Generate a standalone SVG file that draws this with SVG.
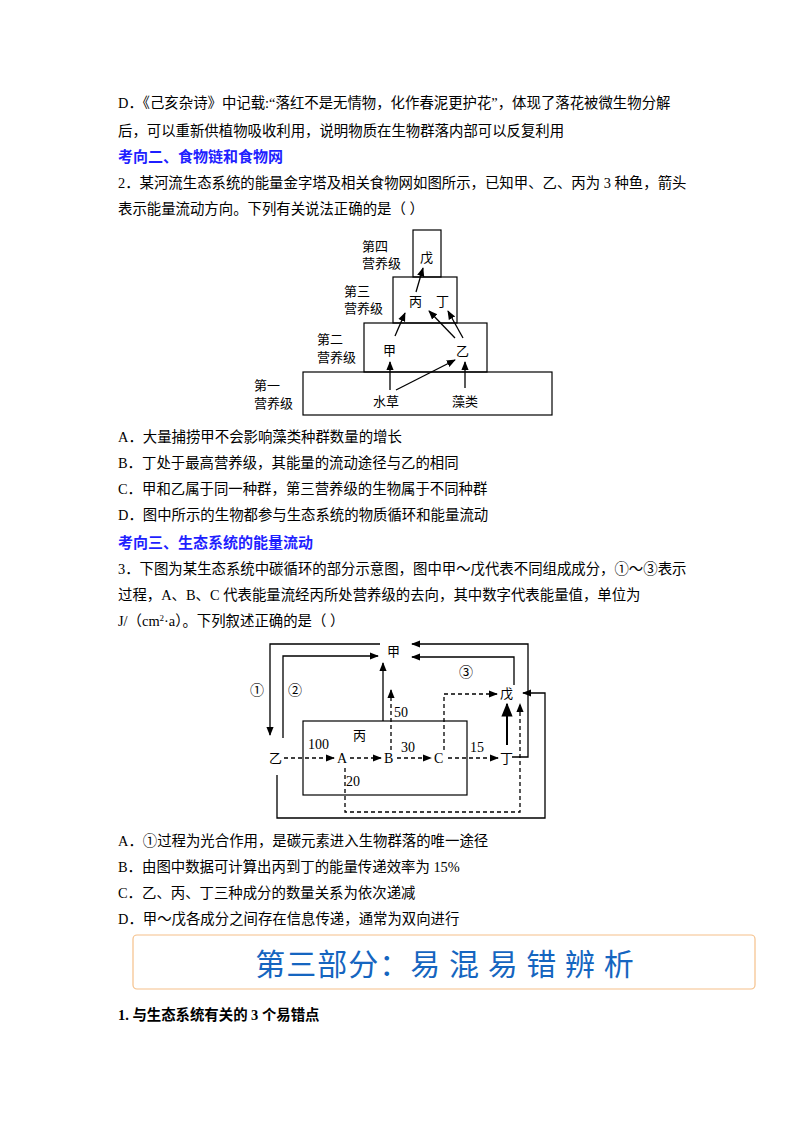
<svg xmlns="http://www.w3.org/2000/svg" width="800" height="1132" viewBox="0 0 800 1132">
<defs>
<marker id="ar" viewBox="0 0 10 10" refX="9" refY="5" markerWidth="7" markerHeight="7" orient="auto"><path d="M0,1 L10,5 L0,9 z" fill="#000"/></marker>
<style>
text{font-family:"Liberation Serif","Noto Sans CJK SC",serif;font-size:14.4px;fill:#000}
.h{font-weight:bold;fill:#1f1fff;font-size:15px}
.d{font-family:"Noto Sans CJK SC",sans-serif;font-size:13px}
.n{font-family:"Liberation Serif","Noto Sans CJK SC",serif;font-size:14px}
.b{fill:none;stroke:#000;stroke-width:1.2}
.l{fill:none;stroke:#000;stroke-width:1.3}
.ds{stroke-dasharray:4,3}
</style>
</defs>
<rect width="800" height="1132" fill="#fff"/>
<text x="118" y="108">D．《己亥杂诗》中记载:“落红不是无情物，化作春泥更护花”，体现了落花被微生物分解</text>
<text x="118" y="136">后，可以重新供植物吸收利用，说明物质在生物群落内部可以反复利用</text>
<text x="118" y="162" class="h">考向二、食物链和食物网</text>
<text x="118" y="188">2．某河流生态系统的能量金字塔及相关食物网如图所示，已知甲、乙、丙为 3 种鱼，箭头</text>
<text x="118" y="214">表示能量流动方向。下列有关说法正确的是（     ）</text>
<g id="pyramid">
<rect class="b" x="413" y="230" width="28" height="47"/>
<rect class="b" x="393" y="277" width="64" height="46"/>
<rect class="b" x="364" y="323" width="123" height="49"/>
<rect class="b" x="303" y="372" width="249" height="43"/>
<text class="d" x="362" y="251">第四</text><text class="d" x="362" y="268">营养级</text>
<text class="d" x="344" y="296">第三</text><text class="d" x="344" y="313">营养级</text>
<text class="d" x="317" y="344">第二</text><text class="d" x="317" y="362">营养级</text>
<text class="d" x="254" y="390">第一</text><text class="d" x="254" y="408">营养级</text>
<text class="d" x="420" y="262">戊</text>
<text class="d" x="409" y="306">丙</text><text class="d" x="436" y="306">丁</text>
<text class="d" x="383" y="355">甲</text><text class="d" x="456" y="356">乙</text>
<text class="d" x="373" y="406">水草</text><text class="d" x="452" y="406">藻类</text>
<g class="l">
<line x1="416" y1="292" x2="423" y2="268" marker-end="url(#ar)"/>
<line x1="395" y1="336" x2="405" y2="313" marker-end="url(#ar)"/>
<line x1="455" y1="338" x2="429" y2="311" marker-end="url(#ar)"/>
<line x1="463" y1="338" x2="448" y2="311" marker-end="url(#ar)"/>
<line x1="390" y1="390" x2="390" y2="362" marker-end="url(#ar)"/>
<line x1="396" y1="390" x2="455" y2="360" marker-end="url(#ar)"/>
<line x1="465" y1="388" x2="465" y2="362" marker-end="url(#ar)"/>
</g>
</g>
<text x="118" y="442">A．大量捕捞甲不会影响藻类种群数量的增长</text>
<text x="118" y="468">B．丁处于最高营养级，其能量的流动途径与乙的相同</text>
<text x="118" y="494">C．甲和乙属于同一种群，第三营养级的生物属于不同种群</text>
<text x="118" y="520">D．图中所示的生物都参与生态系统的物质循环和能量流动</text>
<text x="118" y="548" class="h">考向三、生态系统的能量流动</text>
<text x="118" y="574">3．下图为某生态系统中碳循环的部分示意图，图中甲～戊代表不同组成成分，①～③表示</text>
<text x="118" y="600">过程，A、B、C 代表能量流经丙所处营养级的去向，其中数字代表能量值，单位为</text>
<text x="118" y="626">J/（cm<tspan font-size="9" dy="-5">2</tspan><tspan dy="5">·a）。下列叙述正确的是（       ）</tspan></text>
<g id="carbon">
<rect class="b" x="303" y="721" width="164" height="74"/>
<text class="d" x="387" y="656">甲</text>
<text class="d" x="353" y="740">丙</text>
<text class="d" x="269" y="763">乙</text>
<text class="d" x="500" y="698">戊</text>
<text class="d" x="500" y="763">丁</text>
<text class="n" x="337" y="763">A</text>
<text class="n" x="384" y="763">B</text>
<text class="n" x="434" y="763">C</text>
<text class="n" x="308" y="749" font-size="13">100</text>
<text class="n" x="401" y="752" font-size="13">30</text>
<text class="n" x="470" y="752" font-size="13">15</text>
<text class="n" x="394" y="717" font-size="13">50</text>
<text class="n" x="346" y="786" font-size="13">20</text>
<text class="n" x="250" y="695">①</text>
<text class="n" x="288" y="695">②</text>
<text class="n" x="459" y="677">③</text>
<g id="connectors" class="l">
<polyline points="380,644 270,644 270,735" marker-end="url(#ar)"/>
<polyline points="283,738 283,656 378,656" marker-end="url(#ar)"/>
<polyline points="514,685 514,657 412,657" marker-end="url(#ar)"/>
<polyline points="512,757 528,757 528,644 412,644" marker-end="url(#ar)"/>
<polyline points="277,775 277,818 545,818 545,693 523,693" marker-end="url(#ar)"/>
<line x1="383" y1="721" x2="383" y2="663" marker-end="url(#ar)"/>
<line x1="507" y1="745" x2="507" y2="704" stroke-width="2" marker-end="url(#ar)"/>
<g class="ds">
<line x1="284" y1="758" x2="334" y2="758" marker-end="url(#ar)"/>
<line x1="350" y1="758" x2="381" y2="758" marker-end="url(#ar)"/>
<line x1="397" y1="758" x2="431" y2="758" marker-end="url(#ar)"/>
<line x1="448" y1="758" x2="498" y2="758" marker-end="url(#ar)"/>
<line x1="391" y1="750" x2="391" y2="690" marker-end="url(#ar)"/>
<polyline points="444,750 444,694 497,694" marker-end="url(#ar)"/>
<polyline points="345,768 345,812 520,812 520,704" marker-end="url(#ar)"/>
</g>
</g>
</g>
<text x="118" y="846">A．①过程为光合作用，是碳元素进入生物群落的唯一途径</text>
<text x="118" y="872">B．由图中数据可计算出丙到丁的能量传递效率为 15%</text>
<text x="118" y="898">C．乙、丙、丁三种成分的数量关系为依次递减</text>
<text x="118" y="924">D．甲～戊各成分之间存在信息传递，通常为双向进行</text>
<rect x="133" y="935" width="622" height="54" rx="4" fill="#fff" stroke="#f5c08a" stroke-width="1.2"/>
<text x="445" y="975" text-anchor="middle" style="font-family:'Noto Sans CJK SC',sans-serif;font-size:30px;fill:#1565c0;letter-spacing:1px">第三部分：易 混 易 错 辨 析</text>
<text x="118" y="1020" style="font-weight:bold">1. 与生态系统有关的 3 个易错点</text>
</svg>
